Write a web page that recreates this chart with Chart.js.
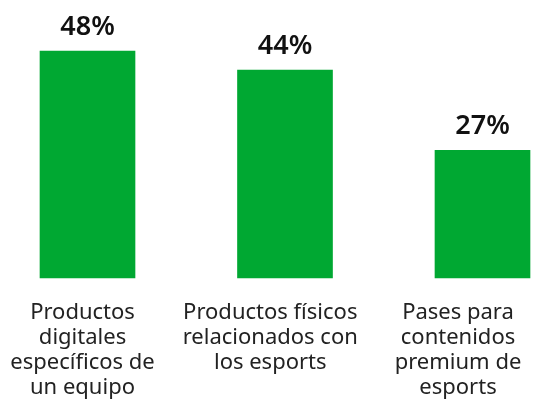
<!DOCTYPE html>
<html>
<head>
<meta charset="utf-8">
<script src="https://cdn.jsdelivr.net/npm/chart.js@4"></script>
<style>
  body { margin: 0; background: #fff; }
  #wrap { width: 544px; height: 402px; }
</style>
</head>
<body>
<div id="wrap"><canvas id="graph"></canvas></div>
<script>
// categories, each split into the lines shown under its bar
var categories = [
    ['Productos', 'digitales', 'específicos de', 'un equipo'],
    ['Productos físicos', 'relacionados con', 'los esports'],
    ['Pases para', 'contenidos', 'premium de', 'esports']
]
var values = [48, 44, 27]
var valueLabels = ['48%', '44%', '27%']

var green = '#00a832'
var fontFamily = '"Noto Sans", "Open Sans", sans-serif'

// writes the percentage above each bar
var valueLabelPlugin = {
    id: 'valueLabels',
    afterDatasetsDraw: function (chart) {
        var ctx = chart.ctx
        var meta = chart.getDatasetMeta(0)
        ctx.save()
        ctx.fillStyle = '#111'
        ctx.font = '600 27px ' + fontFamily
        ctx.textAlign = 'center'
        ctx.textBaseline = 'alphabetic'
        meta.data.forEach(function (bar, i) {
            ctx.fillText(valueLabels[i], bar.x, bar.y - 16)
        })
        ctx.restore()
    }
}

var ctx = document.getElementById('graph').getContext('2d')
var chart = new Chart(ctx, {
    type: 'bar',
    data: {
        labels: categories,
        datasets: [{
            data: values,
            backgroundColor: green,
            barThickness: 95,
            clip: false
        }]
    },
    options: {
        responsive: true,
        maintainAspectRatio: false,
        animation: false,
        layout: {
            padding: { top: 18, left: 87.5, right: 61.5, bottom: 2 }
        },
        plugins: {
            legend: { display: false },
            tooltip: { enabled: false }
        },
        scales: {
            // bars sit on this one
            x: {
                display: false,
                offset: false
            },
            // category names, set a little tighter than the bars.
            // the gap above them comes from the (hidden) tick length so
            // it doesn't widen the side padding
            xLabels: {
                type: 'linear',
                position: 'bottom',
                offset: false,
                min: 0.0266,
                max: 2.1305,
                afterBuildTicks: function (scale) {
                    scale.ticks = categories.map(function (c, i) { return { value: i } })
                },
                grid: { display: false, drawTicks: true, tickLength: 22, offset: false },
                border: { display: false },
                ticks: {
                    color: '#222',
                    padding: 0,
                    maxRotation: 0,
                    autoSkip: false,
                    font: { family: fontFamily, size: 22, lineHeight: 1.136 },
                    callback: function (value) {
                        return categories[value]
                    }
                }
            },
            y: {
                display: false,
                min: 0,
                max: 55
            }
        }
    },
    plugins: [valueLabelPlugin]
})
</script>
</body>
</html>
